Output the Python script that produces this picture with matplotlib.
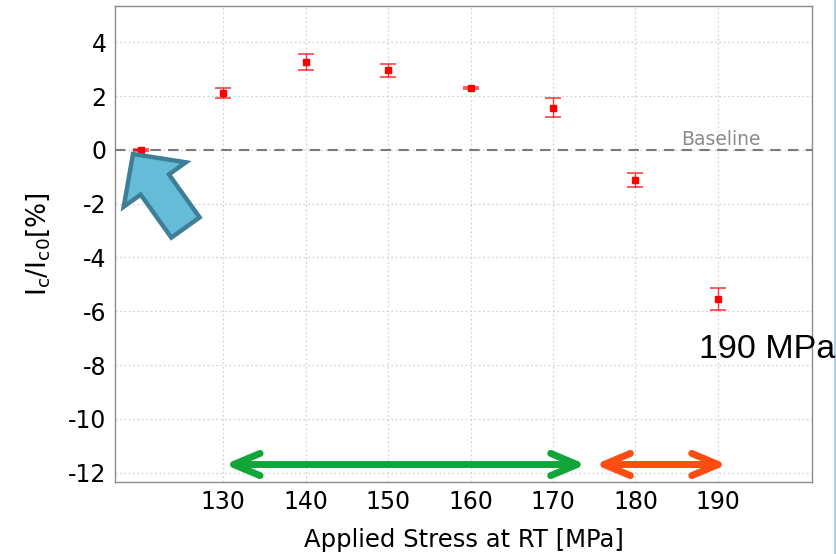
"""Ic/Ic0 versus applied stress at room temperature."""
import matplotlib
matplotlib.use("Agg")
import matplotlib.pyplot as plt
from matplotlib.patches import FancyArrowPatch
from matplotlib.lines import Line2D

plt.rcParams["mathtext.default"] = "regular"
plt.rcParams["axes.unicode_minus"] = False

# measured points
stress = [120, 130, 140, 150, 160, 170, 180, 190]
ratio = [0.0, 2.12, 3.27, 2.97, 2.30, 1.57, -1.12, -5.55]
ratio_err = [0.05, 0.19, 0.28, 0.24, 0.05, 0.35, 0.25, 0.40]

xticks = [130, 140, 150, 160, 170, 180, 190]
yticks = [-12, -10, -8, -6, -4, -2, 0, 2, 4]

# stress ranges marked below the data
safe_range = (130.2, 174.0)
damage_range = (175.1, 191.1)
range_y = -11.7

fig = plt.figure(figsize=(8.36, 5.54), dpi=100)
ax = fig.add_axes([0.1376, 0.130, 0.8337, 0.860])

ax.errorbar(stress, ratio, yerr=ratio_err, fmt="s", color="red", ms=4,
            ecolor=(1, 0, 0, 0.75), elinewidth=1.0, capsize=5.5, capthick=1.2,
            zorder=5)

ax.axhline(0, color="#7a7a7a", lw=1.5, ls=(0, (5, 3.5)), zorder=3)
ax.text(190.3, 0.05, "Baseline", color="#8a8a8a", fontsize=13.5,
        ha="center", va="bottom")

for (x0, x1), col in ((safe_range, "#12a538"), (damage_range, "#ff4c10")):
    ax.annotate("", xy=(x1, range_y), xytext=(x0, range_y),
                arrowprops=dict(arrowstyle="<->,head_length=19,head_width=8",
                                mutation_scale=1, color=col, lw=5,
                                shrinkA=0, shrinkB=0, capstyle="round",
                                joinstyle="round"))

ax.set_xlim(116.9, 201.4)
ax.set_ylim(-12.35, 5.37)
ax.set_xticks(xticks)
ax.set_yticks(yticks)
ax.tick_params(labelsize=17, length=0, pad=6)
ax.grid(True, ls=(0, (1.5, 2)), color="#d2d2e0", lw=0.9)
ax.set_axisbelow(True)
for sp in ax.spines.values():
    sp.set_color("#8c8c8c")
    sp.set_linewidth(1.0)

ax.set_xlabel("Applied Stress at RT [MPa]", fontsize=17.5, labelpad=10)
ax.set_ylabel("I$_c$/I$_{c0}$[%]", fontsize=19, labelpad=12)

# big pointer to the reference point
W, H = 836, 554
pointer = FancyArrowPatch(
    (185.5 / W, 1 - 227.5 / H), (133 / W, 1 - 154 / H),
    transform=fig.transFigure,
    arrowstyle="simple,head_length=27,head_width=55,tail_width=25",
    mutation_scale=1, shrinkA=0, shrinkB=0, joinstyle="miter",
    facecolor="#65bcd8", edgecolor="#3f7f96", lw=3.2, zorder=10)
fig.add_artist(pointer)

fig.text(699 / W, 1 - 358 / H, "190 MPa", fontsize=24.5,
         family="Liberation Sans", va="baseline", ha="left")

fig.add_artist(Line2D([834.5 / W, 834.5 / W], [0, 1],
                      transform=fig.transFigure, color="#a6d6e4", lw=1.6))

fig.savefig("out.png", dpi=100)
